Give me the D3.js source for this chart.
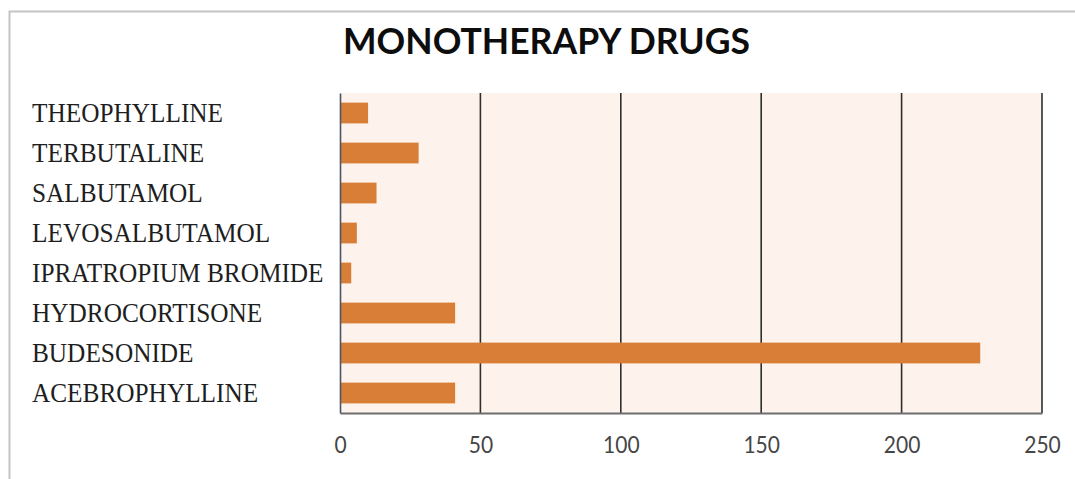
<!DOCTYPE html>
<html>
<head>
<meta charset="utf-8">
<script src="https://cdn.jsdelivr.net/npm/d3@7"></script>
<style>
  html, body { margin: 0; padding: 0; background: #ffffff; }
  svg { display: block; }
</style>
</head>
<body>
<script>
// Monotherapy drug counts, listed top to bottom
const drugs = ["THEOPHYLLINE", "TERBUTALINE", "SALBUTAMOL", "LEVOSALBUTAMOL",
               "IPRATROPIUM BROMIDE", "HYDROCORTISONE", "BUDESONIDE", "ACEBROPHYLLINE"];
const counts = [10, 28, 13, 6, 4, 41, 228, 41];
const xTicks = [0, 50, 100, 150, 200, 250];
const chartTitle = "MONOTHERAPY DRUGS";

const W = 1075, H = 479;
const margin = { top: 93, right: 33, bottom: 66, left: 340 };
const innerW = W - margin.left - margin.right;
const innerH = H - margin.top - margin.bottom;

const svg = d3.select("body").append("svg")
  .attr("width", W).attr("height", H);

// outer frame
svg.append("rect")
  .attr("x", 9.5).attr("y", 11.5)
  .attr("width", W + 20).attr("height", H + 20)
  .attr("fill", "none").attr("stroke", "#c4c4c4").attr("stroke-width", 2);

// title
svg.append("text")
  .attr("x", 546.5).attr("y", 54)
  .attr("text-anchor", "middle")
  .attr("font-family", "Lato, 'Open Sans', sans-serif")
  .attr("font-weight", "bold")
  .attr("font-size", 37)
  .attr("textLength", 407)
  .attr("lengthAdjust", "spacingAndGlyphs")
  .attr("fill", "#0d0d0d")
  .text(chartTitle);

const g = svg.append("g").attr("transform", `translate(${margin.left},${margin.top})`);

const x = d3.scaleLinear().domain([0, 250]).range([0, innerW]);
const y = d3.scaleBand().domain(drugs).range([0, innerH]).paddingInner(0.48).paddingOuter(0.24);

// plot background
g.append("rect")
  .attr("x", 0).attr("y", 0).attr("width", innerW).attr("height", innerH)
  .attr("fill", "#fdf3ec");

// vertical gridlines
g.selectAll("line.grid")
  .data(xTicks.filter(d => d > 0))
  .join("line")
  .attr("class", "grid")
  .attr("x1", d => x(d)).attr("x2", d => x(d))
  .attr("y1", 0).attr("y2", innerH)
  .attr("stroke", "#2f2f2f").attr("stroke-width", 1.6);

// bars
g.selectAll("rect.bar")
  .data(drugs)
  .join("rect")
  .attr("class", "bar")
  .attr("x", 0)
  .attr("y", d => y(d))
  .attr("width", (d, i) => x(counts[i]))
  .attr("height", y.bandwidth())
  .attr("fill", "#d97e37");

// bottom axis
const xAxis = g.append("g")
  .attr("transform", `translate(0,${innerH})`)
  .call(d3.axisBottom(x).tickValues(xTicks).tickSize(0).tickPadding(22));
xAxis.select(".domain").attr("stroke", "#6e6e6e").attr("stroke-width", 2.2);
xAxis.selectAll("text")
  .attr("font-family", "Lato, 'Open Sans', sans-serif")
  .attr("font-size", 21)
  .attr("transform", "scale(1,1.08)")
  .attr("fill", "#454545");

// left axis with left-aligned category names
const yAxis = g.append("g")
  .call(d3.axisLeft(y).tickSize(0));
yAxis.select(".domain").attr("stroke", "#4a5568").attr("stroke-width", 1.6);
yAxis.selectAll("text")
  .attr("text-anchor", "start")
  .attr("x", 32 - margin.left)
  .attr("dy", "0.33em")
  .attr("transform", "scale(1,1.1)")
  .attr("font-family", "'Liberation Serif', 'Times New Roman', serif")
  .attr("font-size", 25.3)
  .attr("fill", "#1e1e1e");
</script>
</body>
</html>
